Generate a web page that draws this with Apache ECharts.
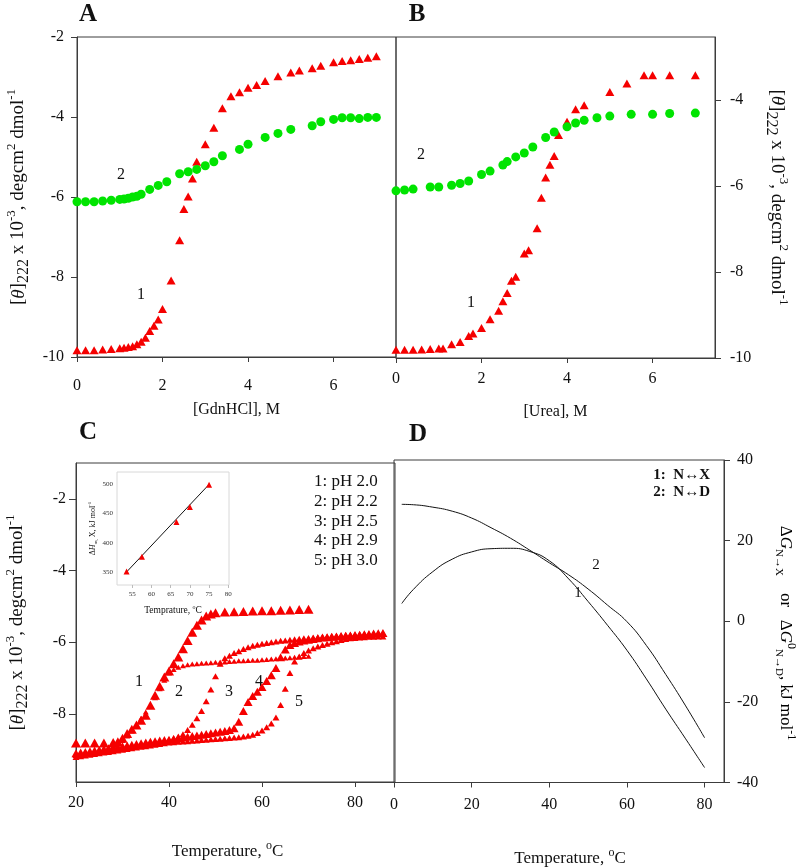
<!DOCTYPE html>
<html><head><meta charset="utf-8">
<script src="https://cdn.jsdelivr.net/npm/echarts@6/dist/echarts.min.js"></script>
<style>html,body{margin:0;padding:0;background:#fff}#c{width:797px;height:868px}</style>
</head><body><div id="c"></div>
<script>
// ---------- Panel A : GdnHCl ----------
const gdnX1 = [0,0.2,0.4,0.6,0.8,1.0,1.1,1.2,1.3,1.4,1.5,1.6,1.7,1.8,1.9,2.0,2.2,2.4,2.5,2.6,2.7,2.8,3.0,3.2,3.4,3.6,3.8,4.0,4.2,4.4,4.7,5.0,5.2,5.5,5.7,6.0,6.2,6.4,6.6,6.8,7.0];
const gdnY1 = [-9.83,-9.83,-9.83,-9.81,-9.8,-9.78,-9.77,-9.75,-9.73,-9.68,-9.62,-9.52,-9.35,-9.22,-9.06,-8.8,-8.09,-7.08,-6.3,-5.99,-5.54,-5.12,-4.68,-4.27,-3.78,-3.48,-3.38,-3.27,-3.2,-3.1,-2.98,-2.89,-2.84,-2.78,-2.72,-2.63,-2.6,-2.58,-2.55,-2.52,-2.48];
const gdnX2 = [0,0.2,0.4,0.6,0.8,1.0,1.1,1.2,1.3,1.4,1.5,1.7,1.9,2.1,2.4,2.6,2.8,3.0,3.2,3.4,3.8,4.0,4.4,4.7,5.0,5.5,5.7,6.0,6.2,6.4,6.6,6.8,7.0];
const gdnY2 = [-6.12,-6.12,-6.12,-6.1,-6.08,-6.06,-6.05,-6.03,-6.0,-5.98,-5.93,-5.81,-5.71,-5.62,-5.42,-5.37,-5.31,-5.22,-5.12,-4.97,-4.81,-4.68,-4.51,-4.41,-4.31,-4.22,-4.12,-4.06,-4.02,-4.02,-4.04,-4.01,-4.01];
const gdnTicks = [0,2,4,6];
const thetaTicksA = [-10,-8,-6,-4,-2];

// ---------- Panel B : Urea ----------
const ureaX1 = [0,0.2,0.4,0.6,0.8,1.0,1.1,1.3,1.5,1.7,1.8,2.0,2.2,2.4,2.5,2.6,2.7,2.8,3.0,3.1,3.3,3.4,3.5,3.6,3.7,3.8,4.0,4.2,4.4,5.0,5.4,5.8,6.0,6.4,7.0];
const ureaY1 = [-9.81,-9.81,-9.81,-9.8,-9.79,-9.78,-9.78,-9.68,-9.63,-9.49,-9.43,-9.3,-9.1,-8.9,-8.68,-8.49,-8.2,-8.11,-7.57,-7.49,-6.98,-6.27,-5.8,-5.5,-5.3,-4.81,-4.5,-4.21,-4.12,-3.81,-3.61,-3.42,-3.42,-3.42,-3.42];
const ureaX2 = [0,0.2,0.4,0.8,1.0,1.3,1.5,1.7,2.0,2.2,2.5,2.6,2.8,3.0,3.2,3.5,3.7,4.0,4.2,4.4,4.7,5.0,5.5,6.0,6.4,7.0];
const ureaY2 = [-6.11,-6.09,-6.07,-6.02,-6.02,-5.98,-5.94,-5.88,-5.73,-5.65,-5.51,-5.43,-5.32,-5.23,-5.09,-4.87,-4.74,-4.62,-4.53,-4.47,-4.41,-4.37,-4.33,-4.33,-4.31,-4.3];
const ureaTicks = [0,2,4,6];
const thetaTicksB = [-10,-8,-6,-4];

// ---------- Panel C : thermal melts ----------
const tempPH20 = [20,22,24,26,28,29,30,31,32,33,34,35,36,37,38,39,40,41,42,43,44,45,46,47,48,49,50,52,54,56,58,60,62,64,66,68,70];
const thetaPH20 = [-8.81,-8.81,-8.81,-8.81,-8.8,-8.78,-8.68,-8.55,-8.43,-8.31,-8.18,-8.04,-7.76,-7.48,-7.23,-6.97,-6.8,-6.6,-6.41,-6.18,-5.95,-5.72,-5.53,-5.38,-5.27,-5.21,-5.18,-5.16,-5.15,-5.14,-5.13,-5.12,-5.12,-5.11,-5.1,-5.09,-5.08];
const tempC = [20,21,22,23,24,25,26,27,28,29,30,31,32,33,34,35,36,37,38,39,40,41,42,43,44,45,46,47,48,49,50,51,52,53,54,55,56,57,58,59,60,61,62,63,64,65,66,67,68,69,70,71,72,73,74,75,76,77,78,79,80,81,82,83,84,85,86];
const thetaPH22 = [-9.12,-9.10,-9.08,-9.06,-9.04,-9.01,-8.98,-8.94,-8.89,-8.82,-8.74,-8.62,-8.48,-8.30,-8.12,-7.95,-7.76,-7.55,-7.30,-7.06,-6.86,-6.76,-6.70,-6.66,-6.63,-6.61,-6.60,-6.59,-6.58,-6.57,-6.56,-6.55,-6.55,-6.54,-6.53,-6.52,-6.52,-6.51,-6.50,-6.50,-6.49,-6.48,-6.47,-6.46,-6.45,-6.44,-6.43,-6.42,-6.41,-6.40,-6.39];
const thetaPH25 = [-9.15,-9.13,-9.11,-9.09,-9.07,-9.05,-9.03,-9.01,-8.99,-8.97,-8.95,-8.93,-8.91,-8.89,-8.87,-8.85,-8.83,-8.81,-8.78,-8.75,-8.72,-8.68,-8.63,-8.57,-8.45,-8.3,-8.12,-7.92,-7.65,-7.32,-6.95,-6.6,-6.45,-6.38,-6.30,-6.25,-6.19,-6.14,-6.10,-6.07,-6.04,-6.02,-6.00,-5.98,-5.96,-5.95,-5.93,-5.92,-5.90,-5.89,-5.88,-5.87,-5.86,-5.85,-5.84,-5.83,-5.82,-5.81,-5.80,-5.79,-5.79,-5.78,-5.77,-5.77,-5.76,-5.76,-5.75];
const thetaPH29 = [-9.10,-9.08,-9.06,-9.04,-9.02,-9.00,-8.98,-8.96,-8.94,-8.92,-8.90,-8.88,-8.86,-8.84,-8.82,-8.80,-8.78,-8.76,-8.74,-8.73,-8.72,-8.70,-8.68,-8.66,-8.64,-8.62,-8.60,-8.58,-8.56,-8.54,-8.52,-8.50,-8.48,-8.45,-8.40,-8.22,-7.92,-7.67,-7.50,-7.38,-7.25,-7.08,-6.92,-6.72,-6.42,-6.20,-6.08,-6.02,-5.98,-5.95,-5.93,-5.91,-5.89,-5.87,-5.86,-5.85,-5.84,-5.83,-5.82,-5.81,-5.80,-5.79,-5.78,-5.77,-5.76,-5.75,-5.74];
const thetaPH30 = [-9.20,-9.18,-9.16,-9.14,-9.12,-9.10,-9.08,-9.06,-9.04,-9.02,-9.00,-8.98,-8.96,-8.94,-8.92,-8.90,-8.88,-8.86,-8.84,-8.82,-8.80,-8.79,-8.78,-8.77,-8.76,-8.75,-8.74,-8.73,-8.72,-8.71,-8.70,-8.69,-8.68,-8.67,-8.66,-8.65,-8.63,-8.61,-8.58,-8.53,-8.46,-8.37,-8.27,-8.10,-7.75,-7.30,-6.86,-6.54,-6.40,-6.30,-6.23,-6.17,-6.12,-6.08,-6.04,-6.00,-5.97,-5.94,-5.91,-5.89,-5.88,-5.87,-5.86,-5.85,-5.85,-5.84,-5.84];
const tempTicksC = [20,40,60,80];
const thetaTicksC = [-8,-6,-4,-2];
const legendC = ['1: pH 2.0','2: pH 2.2','3: pH 2.5','4: pH 2.9','5: pH 3.0'];

// inset of C
const insetTm = [53.5,57.5,66.5,70,75];
const insetDH = [351.7,376.8,435.6,460.7,498.3];
const insetFitT = [53.5,75];
const insetFitH = [351,499];
const insetTicksT = [55,60,65,70,75,80];
const insetTicksH = [350,400,450,500];

// ---------- Panel D : stability curves ----------
const tempD = [2,5,10,15,20,25,30,35,40,45,50,55,60,65,70,75,80];
const dG_NX = [4.4,7.9,12.3,15.4,17.2,18.0,18.1,17.3,15.0,10.5,4.9,-1.0,-7.2,-14.3,-21.8,-29.0,-36.3];
const dG_ND = [29.0,28.9,28.3,27.3,25.6,23.2,20.6,17.6,14.5,11.5,8.0,4.0,-0.1,-6.0,-13.2,-20.8,-28.9];
const tempTicksD = [0,20,40,60,80];
const legendD = ['1:  N\u2194X','2:  N\u2194D'];

const zip = (a,b) => a.map((v,i)=>[v,b[i]]);

const SERIF = "'Liberation Serif','Times New Roman',Times,serif";
const LC = '#3c3c3c';
const TXT = '#111';
const rich = (fs) => ({
  n:{fontSize:fs,fontFamily:SERIF,color:TXT,lineHeight:Math.round(fs*1.4)},
  i:{fontSize:fs,fontFamily:SERIF,color:TXT,fontStyle:'italic',lineHeight:Math.round(fs*1.4)},
  sub:{fontSize:Math.round(fs*0.85),fontFamily:SERIF,color:TXT,verticalAlign:'bottom',lineHeight:Math.round(fs*0.85)},
  ssub:{fontSize:Math.round(fs*0.62),fontFamily:SERIF,color:TXT,verticalAlign:'bottom',lineHeight:Math.round(fs*0.62)},
  sup:{fontSize:Math.round(fs*0.68),fontFamily:SERIF,color:TXT,verticalAlign:'top',lineHeight:Math.round(fs*0.68)}
});
const thetaTitle = '{n|[}{i|\u03b8}{n|]}{sub|222}{n| x 10}{sup|-3}{n|, degcm}{sup|2}{n| dmol}{sup|-1}';
const tempTitle = '{n|Temperature, }{sup|o}{n|C}';

function valAxis(o){
  const a = {
    type:'value', gridIndex:o.g, min:o.min, max:o.max, position:o.pos,
    axisLine:{show:true,onZero:false,lineStyle:{color:LC,width:1}},
    axisTick:{show:true,length:o.tl||6,lineStyle:{color:LC},customValues:o.ticks},
    axisLabel:{customValues:o.ticks,margin:o.m,fontSize:o.fs||16,fontFamily:SERIF,color:TXT},
    splitLine:{show:false}
  };
  if(o.name){
    a.name=o.name; a.nameLocation='middle'; a.nameGap=o.gap;
    a.nameRotate=o.rot||0;
    a.nameTextStyle=Object.assign({fontFamily:SERIF,fontSize:o.nfs||16,color:TXT,rich:rich(o.nfs||16)},o.nts||{});
  }
  return a;
}

const grids = [
  {left:77,top:37,width:319,height:320},
  {left:396,top:37,width:319,height:321},
  {left:76,top:463,width:319,height:319},
  {left:394,top:460,width:330,height:323},
  {left:117,top:472,width:112,height:113}
].map((g,i)=>Object.assign({show:true,borderColor:i===4?'#d8d8d8':LC,borderWidth:1,backgroundColor:i===4?'#fff':'transparent'},g));

const xAxes = [
  valAxis({g:0,min:0,max:7.46,ticks:gdnTicks,m:21,tl:5,name:'[GdnHCl], M',gap:45}),
  valAxis({g:1,min:0,max:7.46,ticks:ureaTicks,m:13,tl:5,name:'[Urea], M',gap:46}),
  valAxis({g:2,min:20,max:88.6,ticks:tempTicksC,m:13,tl:5,name:tempTitle,gap:58,nfs:17,nts:{padding:[0,16,0,0]}}),
  valAxis({g:3,min:0,max:85,ticks:tempTicksD,m:14,tl:5,name:tempTitle,gap:64,nfs:17,nts:{padding:[0,0,0,22]}}),
  {type:'value',gridIndex:4,min:51,max:80.2,axisLine:{show:false},
   axisTick:{show:true,length:3,lineStyle:{color:'#bbb'},customValues:insetTicksT},
   axisLabel:{customValues:insetTicksT,fontSize:7,margin:6,fontFamily:SERIF,color:'#333'},splitLine:{show:false},
   name:'{n|Temprature, }{sup|o}{n|C}',nameLocation:'middle',nameGap:19,nameTextStyle:{rich:rich(9.5)}}
];
const yAxes = [
  valAxis({g:0,min:-10,max:-2,ticks:thetaTicksA,m:13,tl:6,pos:'left',name:thetaTitle,gap:45,rot:90,nfs:19}),
  valAxis({g:1,min:-10,max:-2.53,ticks:thetaTicksB,m:15,tl:6,pos:'right',name:thetaTitle,gap:48,rot:-90,nfs:19}),
  valAxis({g:2,min:-9.9,max:-1,ticks:thetaTicksC,m:10,tl:7,pos:'left',name:thetaTitle,gap:45,rot:90,nfs:19}),
  valAxis({g:3,min:-40,max:40,ticks:[-40,-20,0,20,40],m:13,tl:6,pos:'right'}),
  {type:'value',gridIndex:4,min:329,max:520,axisLine:{show:false},axisTick:{show:false},
   axisLabel:{customValues:insetTicksH,fontSize:7,margin:4,fontFamily:SERIF,color:'#333'},splitLine:{show:false},
   name:'{n|\u0394}{i|H}{ssub|m,}{n| X, kJ mol}{sup|-1}',nameLocation:'middle',nameGap:15,nameRotate:90,nameTextStyle:{rich:rich(8)}}
];

const RED='#f50000', GREEN='#00e400';
function sc(xi,data,sym,size,color,z){
  return {type:'scatter',xAxisIndex:xi,yAxisIndex:xi,data,symbol:sym,symbolSize:size,clip:false,
    itemStyle:{color,opacity:1},z:z||2,emphasis:{disabled:true}};
}
const dLine = (data) => ({type:'line',xAxisIndex:3,yAxisIndex:3,data,smooth:0.5,showSymbol:false,
  lineStyle:{color:'#111',width:1},emphasis:{disabled:true}});
const series = [
  sc(0,zip(gdnX1,gdnY1),'triangle',[9,8],RED),
  sc(0,zip(gdnX2,gdnY2),'circle',9,GREEN,3),
  sc(1,zip(ureaX1,ureaY1),'triangle',[9,8],RED),
  sc(1,zip(ureaX2,ureaY2),'circle',9,GREEN,3),
  sc(2,zip(tempC,thetaPH30),'triangle',[7,6],RED),
  sc(2,zip(tempC,thetaPH25),'triangle',[7,6],RED),
  sc(2,zip(tempC.slice(0,thetaPH22.length),thetaPH22),'triangle',[6,5],RED),
  sc(2,zip(tempC,thetaPH29),'triangle',[9,8],RED),
  sc(2,zip(tempPH20,thetaPH20),'triangle',[10,9],RED),
  dLine(zip(tempD,dG_NX)),
  dLine(zip(tempD,dG_ND)),
  {type:'line',xAxisIndex:4,yAxisIndex:4,data:zip(insetFitT,insetFitH),showSymbol:false,lineStyle:{color:'#111',width:1},z:5},
  sc(4,zip(insetTm,insetDH),'triangle',[6,6],RED,6)
];

function txt(x,y,text,font,align,extra){
  return Object.assign({type:'text',x,y,silent:true,style:{text,font,fill:TXT,align:align||'center',verticalAlign:'middle'}},extra||{});
}
const graphic = [
  txt(88,15,'A','bold 25px '+SERIF),
  txt(417,15,'B','bold 25px '+SERIF),
  txt(88,433,'C','bold 25px '+SERIF),
  txt(418,435,'D','bold 25px '+SERIF),
  txt(121,175,'2','16px '+SERIF),
  txt(141,295,'1','16px '+SERIF),
  txt(421,155,'2','16px '+SERIF),
  txt(471,303,'1','16px '+SERIF),
  txt(139,682,'1','16px '+SERIF),
  txt(179,692,'2','16px '+SERIF),
  txt(229,692,'3','16px '+SERIF),
  txt(259,682,'4','16px '+SERIF),
  txt(299,702,'5','16px '+SERIF),
  txt(596,565,'2','15px '+SERIF),
  txt(578,593,'1','15px '+SERIF)
];
legendC.forEach((t,i)=>graphic.push(txt(314,482+i*19.6,t,'17px '+SERIF,'left')));
legendD.forEach((t,i)=>graphic.push(txt(710,475+i*17,t,'bold 15px '+SERIF,'right')));
graphic.push({type:'text',x:785,y:633,rotation:-Math.PI/2,silent:true,style:{
  text:'{n|\u0394}{i|G}{ssub|N\u2192X}{n|    or   \u0394}{i|G}{sup|0}{ssub|N\u2192D}{n|, kJ mol}{sup|-1}',
  rich:rich(17),align:'center',verticalAlign:'middle'}});

const chart = echarts.init(document.getElementById('c'),null,{renderer:'canvas'});
chart.setOption({animation:false,backgroundColor:'#fff',grid:grids,xAxis:xAxes,yAxis:yAxes,series,graphic});
</script></body></html>
